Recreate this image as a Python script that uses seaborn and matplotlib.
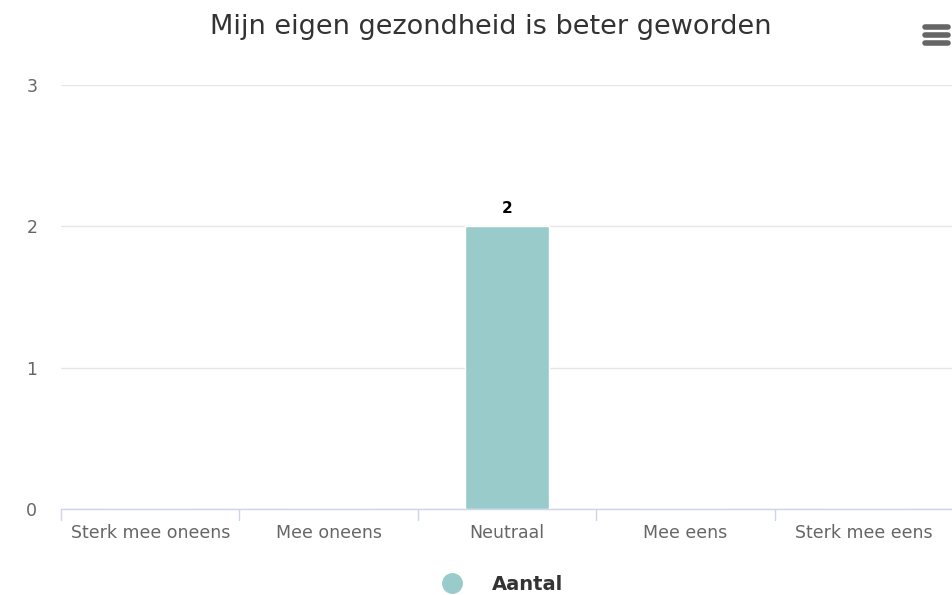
import matplotlib
matplotlib.use("Agg")
import matplotlib.pyplot as plt
import seaborn as sns
import pandas as pd
from matplotlib.lines import Line2D

categories = ["Sterk mee oneens", "Mee oneens", "Neutraal", "Mee eens", "Sterk mee eens"]
values = [0, 0, 2, 0, 0]
series_name = "Aantal"
title = "Mijn eigen gezondheid is beter geworden"
yticks = [0, 1, 2, 3]

sns.set_theme(style="white")
plt.rcParams['font.family'] = ['DejaVu Sans']

df = pd.DataFrame({"cat": categories, "val": values})
W, H = 953, 595
fig = plt.figure(figsize=(W/100, H/100), dpi=100)
ax = fig.add_axes([61/W, 1-509/H, (953-61)/W, (509-85)/H])

sns.barplot(data=df, x="cat", y="val", color="#9ACBCB", saturation=1, width=0.47, ax=ax, zorder=3)

ax.set_ylim(0, 3)
ax.set_xlim(-0.5, 4.5)
ax.set_yticks(yticks)
ax.set_yticklabels([str(t) for t in yticks], color="#666666", fontsize=12.5)
for t in ax.get_yticklabels():
    t.set_horizontalalignment("left")
ax.tick_params(axis="y", length=0, pad=25)
ax.yaxis.grid(True, color="#e6e6e6", linewidth=1, zorder=0)
ax.set_axisbelow(True)

ax.set_xticks(range(len(categories)))
ax.set_xticklabels(categories, color="#666666", fontsize=12.5)
ax.tick_params(axis="x", length=0, pad=11)
# category boundary ticks
for b in [i - 0.5 for i in range(len(categories) + 1)]:
    ax.plot([b, b], [0, -0.075], color="#ccd6eb", lw=1, clip_on=False, zorder=4)

for s in ["top", "right", "left"]:
    ax.spines[s].set_visible(False)
ax.spines["bottom"].set_color("#ccd6eb")
ax.spines["bottom"].set_linewidth(1)
ax.set_xlabel("")
ax.set_ylabel("")

for i, v in enumerate(values):
    if v > 0:
        ax.annotate(str(v), (i, v), xytext=(0, 13), textcoords="offset points",
                    ha="center", va="center", fontsize=11, fontweight="bold", color="black")

fig.text(491/W, 1-27/H, title, ha="center", va="center", fontsize=19.5, color="#333333")

# legend
fig.add_artist(Line2D([452/W], [1-583/H], marker="o", markersize=14, color="#9ACBCB",
                      linestyle="none", transform=fig.transFigure))
fig.text(492/W, 1-584/H, series_name, ha="left", va="center", fontsize=14,
         fontweight="bold", color="#333333")

# menu icon
for yy in [27, 35, 43]:
    fig.add_artist(Line2D([925/W, 948/W], [1-yy/H, 1-yy/H], color="#666666", lw=4,
                          solid_capstyle="round", transform=fig.transFigure))

fig.savefig("out.png", dpi=100)
